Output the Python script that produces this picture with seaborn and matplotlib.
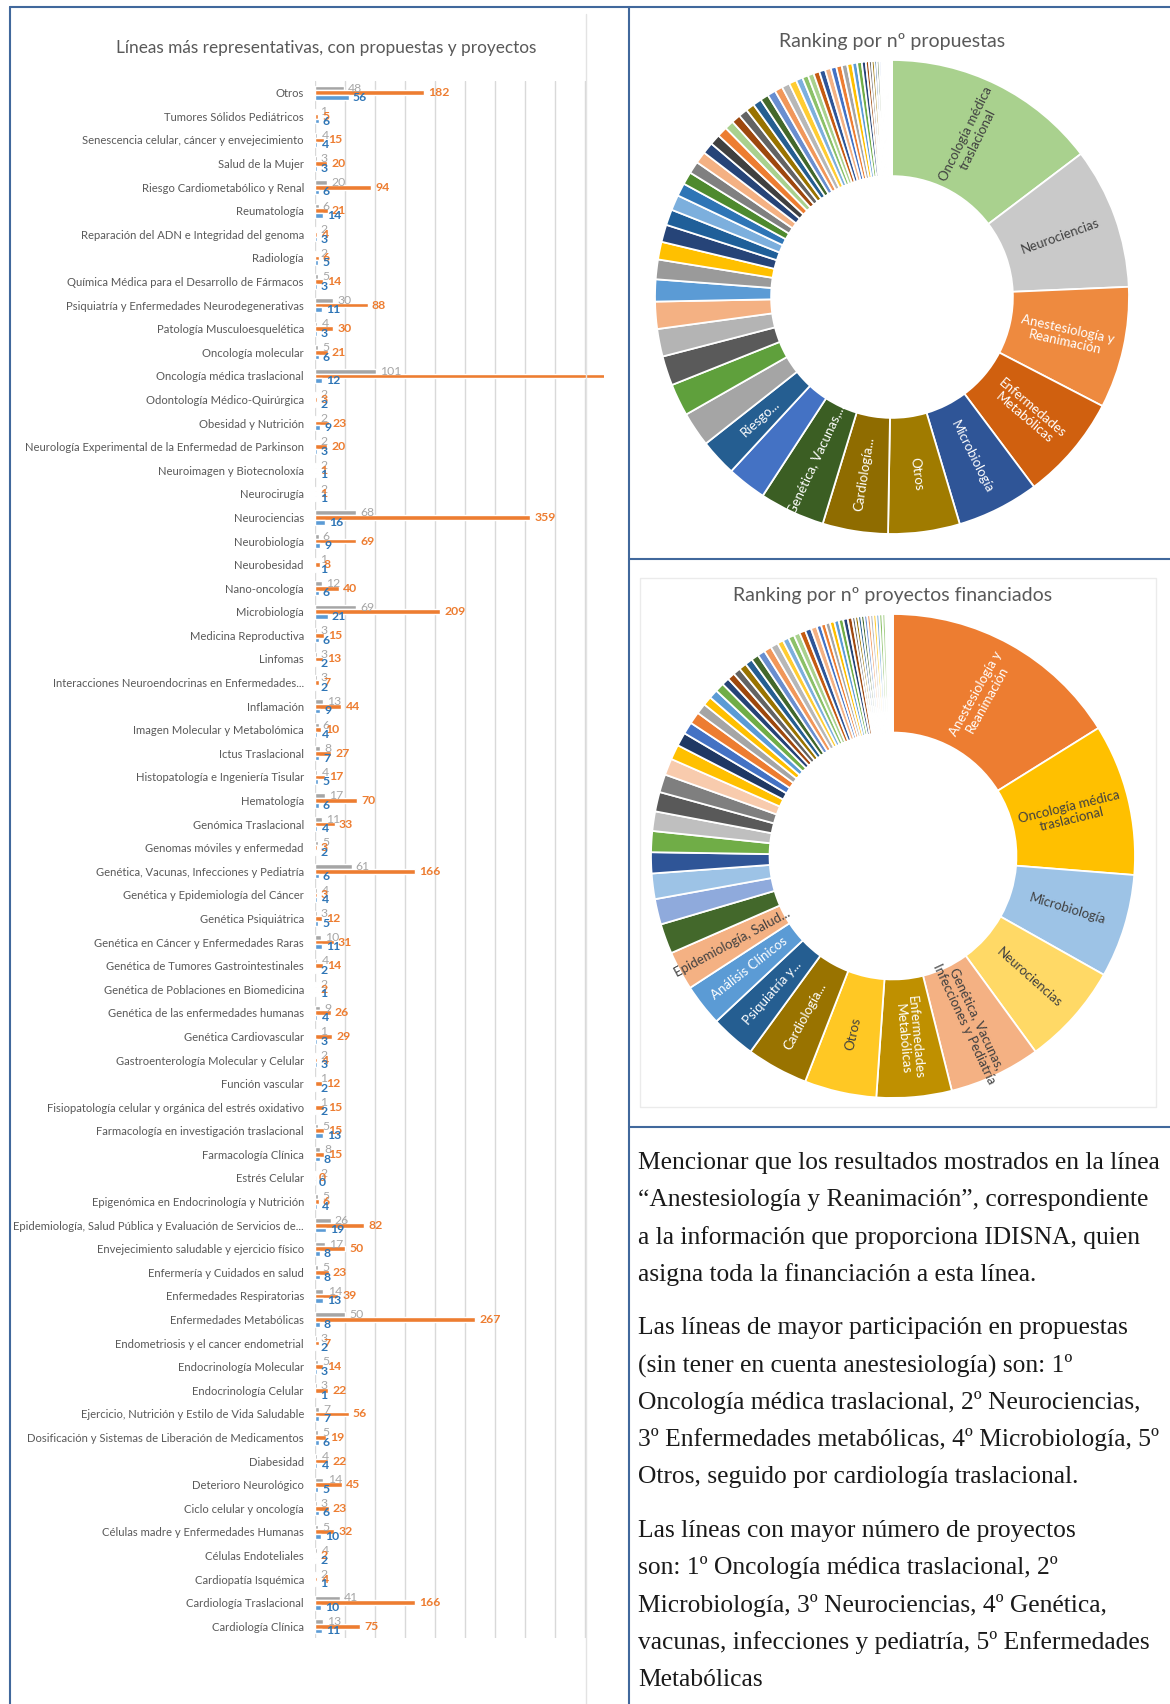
import numpy as np
import pandas as pd
import matplotlib
matplotlib.use("Agg")
import matplotlib.pyplot as plt
import seaborn as sns
from matplotlib.lines import Line2D
from matplotlib.patches import Rectangle

# lineas de investigacion (orden del grafico de barras, de arriba a abajo)
lineas = [
    "Otros",
    "Tumores Sólidos Pediátricos",
    "Senescencia celular, cáncer y envejecimiento",
    "Salud de la Mujer",
    "Riesgo Cardiometabólico y Renal",
    "Reumatología",
    "Reparación del ADN e Integridad del genoma",
    "Radiología",
    "Química Médica para el Desarrollo de Fármacos",
    "Psiquiatría y Enfermedades Neurodegenerativas",
    "Patología Musculoesquelética",
    "Oncología molecular",
    "Oncología médica traslacional",
    "Odontología Médico-Quirúrgica",
    "Obesidad y Nutrición",
    "Neurología Experimental de la Enfermedad de Parkinson",
    "Neuroimagen y Biotecnoloxía",
    "Neurocirugía",
    "Neurociencias",
    "Neurobiología",
    "Neurobesidad",
    "Nano-oncología",
    "Microbiología",
    "Medicina Reproductiva",
    "Linfomas",
    "Interacciones Neuroendocrinas en Enfermedades...",
    "Inflamación",
    "Imagen Molecular y Metabolómica",
    "Ictus Traslacional",
    "Histopatología e Ingeniería Tisular",
    "Hematología",
    "Genómica Traslacional",
    "Genomas móviles y enfermedad",
    "Genética, Vacunas, Infecciones y Pediatría",
    "Genética y Epidemiología del Cáncer",
    "Genética Psiquiátrica",
    "Genética en Cáncer y Enfermedades Raras",
    "Genética de Tumores Gastrointestinales",
    "Genética de Poblaciones en Biomedicina",
    "Genética de las enfermedades humanas",
    "Genética Cardiovascular",
    "Gastroenterología Molecular y Celular",
    "Función vascular",
    "Fisiopatología celular y orgánica del estrés oxidativo",
    "Farmacología en investigación traslacional",
    "Farmacología Clínica",
    "Estrés Celular",
    "Epigenómica en Endocrinología y Nutrición",
    "Epidemiología, Salud Pública y Evaluación de Servicios de...",
    "Envejecimiento saludable y ejercicio físico",
    "Enfermería y Cuidados en salud",
    "Enfermedades Respiratorias",
    "Enfermedades Metabólicas",
    "Endometriosis y el cancer endometrial",
    "Endocrinología Molecular",
    "Endocrinología Celular",
    "Ejercicio, Nutrición y Estilo de Vida Saludable",
    "Dosificación y Sistemas de Liberación de Medicamentos",
    "Diabesidad",
    "Deterioro Neurológico",
    "Ciclo celular y oncología",
    "Células madre y Enfermedades Humanas",
    "Células Endoteliales",
    "Cardiopatía Isquémica",
    "Cardiología Traslacional",
    "Cardiología Clínica",
]

# gris
proyectos = [48, 1, 4, 3, 20, 6, 2, 2, 5, 30, 4, 5, 101, 2, 2, 2, 2, 2, 68, 6,
             1, 12, 69, 3, 3, 3, 13, 6, 8, 4, 17, 11, 5, 61, 4, 3, 10, 4, 2, 9,
             1, 2, 1, 1, 5, 8, 2, 5, 26, 17, 5, 14, 50, 3, 5, 3, 7, 5, 4, 14,
             3, 5, 4, 2, 41, 13]
# naranja
propuestas = [182, 5, 15, 20, 94, 21, 4, 6, 14, 88, 30, 21, 547, 3, 23, 20, 1, 1, 359, 69,
              8, 40, 209, 15, 13, 7, 44, 10, 27, 17, 70, 33, 3, 166, 3, 12, 31, 14, 2, 26,
              29, 4, 12, 15, 15, 15, 0, 6, 82, 50, 23, 39, 267, 7, 14, 22, 56, 19, 22, 45,
              23, 32, 2, 4, 166, 75]
# azul
grupos = [56, 6, 4, 3, 6, 14, 3, 5, 3, 11, 3, 6, 12, 2, 9, 3, 1, 1, 16, 9,
          1, 6, 21, 6, 2, 2, 9, 4, 7, 5, 6, 4, 2, 6, 4, 5, 11, 2, 1, 4,
          3, 3, 2, 2, 13, 8, 0, 4, 19, 8, 8, 13, 8, 2, 3, 1, 7, 6, 4, 5,
          6, 10, 2, 1, 10, 11]

# lineas que solo salen en los anillos
extra_lineas = ["Anestesiología y Reanimación", "Análisis Clínicos"]
extra_propuestas = [309, 100]
extra_proyectos = [161, 28]

titulo_barras = "Líneas más representativas, con propuestas y proyectos"
titulo_prop = "Ranking por nº propuestas"
titulo_proy = "Ranking por nº proyectos financiados"

etiquetas_prop = {
    "Oncología médica traslacional": "Oncología médica\ntraslacional",
    "Neurociencias": "Neurociencias",
    "Anestesiología y Reanimación": "Anestesiología y\nReanimación",
    "Enfermedades Metabólicas": "Enfermedades\nMetabólicas",
    "Microbiología": "Microbiología",
    "Otros": "Otros",
    "Cardiología Traslacional": "Cardiología...",
    "Genética, Vacunas, Infecciones y Pediatría": "Genética, Vacunas,...",
    "Riesgo Cardiometabólico y Renal": "Riesgo...",
}
etiquetas_proy = {
    "Anestesiología y Reanimación": "Anestesiología y\nReanimación",
    "Oncología médica traslacional": "Oncología médica\ntraslacional",
    "Microbiología": "Microbiología",
    "Neurociencias": "Neurociencias",
    "Genética, Vacunas, Infecciones y Pediatría": "Genética, Vacunas,\nInfecciones y Pediatría",
    "Enfermedades Metabólicas": "Enfermedades\nMetabólicas",
    "Otros": "Otros",
    "Cardiología Traslacional": "Cardiología...",
    "Psiquiatría y Enfermedades Neurodegenerativas": "Psiquiatría y...",
    "Análisis Clínicos": "Análisis Clínicos",
    "Epidemiología, Salud Pública y Evaluación de Servicios de...": "Epidemiología, Salud...",
}

texto = [
    ["Mencionar que los resultados mostrados en la línea",
     "“Anestesiología y Reanimación”, correspondiente",
     "a la información que proporciona IDISNA, quien",
     "asigna toda la financiación a esta línea."],
    ["Las líneas de mayor participación en propuestas",
     "(sin tener en cuenta anestesiología) son: 1º",
     "Oncología médica traslacional, 2º Neurociencias,",
     "3º Enfermedades metabólicas, 4º Microbiología, 5º",
     "Otros, seguido por cardiología traslacional."],
    ["Las líneas con mayor número de proyectos",
     "son: 1º Oncología médica traslacional, 2º",
     "Microbiología, 3º Neurociencias, 4º Genética,",
     "vacunas, infecciones y pediatría, 5º Enfermedades",
     "Metabólicas"],
]

sns.set_theme(style="white")
plt.rcParams["font.family"] = ["Lato", "DejaVu Sans"]

W, H = 1170, 1704
fig = plt.figure(figsize=(W / 100, H / 100), dpi=100)
fig.patch.set_facecolor("white")


def fx(x):
    return x / W


def fy(y):
    return 1 - y / H


# ---------- grafico de barras ----------
series = ["proyectos", "propuestas", "grupos"]
df = pd.DataFrame({
    "linea": lineas * 3,
    "serie": np.repeat(series, len(lineas)),
    "valor": proyectos + propuestas + grupos,
})

ax = fig.add_axes([fx(315), fy(1638), fx(604) - fx(315), fy(81) - fy(1638)])
sns.barplot(data=df, x="valor", y="linea", hue="serie", hue_order=series,
            palette=["#A5A5A5", "#ED7D31", "#5B9BD5"], orient="h", width=0.6,
            errorbar=None, saturation=1, legend=False, ax=ax)
ax.set_xlim(0, 482)
ax.set_xticks(np.arange(0, 451, 50))
ax.set_xticklabels([])
ax.tick_params(length=0)
ax.tick_params(axis="y", labelsize=8.1, labelcolor="#595959", pad=8)
ax.grid(axis="x", color="#D9D9D9", lw=1)
ax.set_axisbelow(True)
for s in ax.spines.values():
    s.set_visible(False)
ax.set_xlabel("")
ax.set_ylabel("")

for cont, col, w in zip(ax.containers, ["#A6A6A6", "#ED7D31", "#2E75B6"],
                        ["normal", "bold", "bold"]):
    ax.bar_label(cont, padding=3, color=col, fontsize=8.8, fontweight=w)

fig.text(fx(326), fy(48), titulo_barras, ha="center", va="center",
         fontsize=12.4, color="#595959")

# ---------- anillos ----------
office = ["#4472C4", "#ED7D31", "#A5A5A5", "#FFC000", "#5B9BD5", "#70AD47",
          "#264478", "#9E480E", "#636363", "#997300", "#255E91", "#43682B",
          "#698ED0", "#F1975A", "#B7B7B7", "#FFCD33", "#7CAFDD", "#8CC168",
          "#A9D18E", "#C55A11", "#2F5597", "#F4B183"]

colores_prop = ["#A9D18E", "#C9C9C9", "#EE8A3F", "#D0600F", "#2F5597", "#A07B00",
                "#8F6C00", "#3B5E23", "#4472C4", "#255E91", "#A5A5A5", "#5FA03C",
                "#5A5A5A", "#B4B4B4", "#F4B183", "#5B9BD5", "#9A9A9A", "#FFC000",
                "#264478", "#1F5F99", "#7CAFDD", "#2E75B6", "#4E8A2E", "#808080",
                "#F4B183", "#264478", "#404040", "#ED7D31", "#A9D18E"]
colores_proy = ["#ED7D31", "#FFC000", "#9DC3E6", "#FFD966", "#F4B183", "#BF9000",
                "#FFC824", "#997300", "#255E91", "#5B9BD5", "#F4B183", "#43682B",
                "#8FAADC", "#9DC3E6", "#2F5597", "#70AD47", "#BFBFBF", "#595959",
                "#7F7F7F", "#F8CBAD", "#FFC000", "#1F3864"]

oscuro_prop = {"Oncología médica traslacional", "Neurociencias"}
oscuro_proy = {"Oncología médica traslacional", "Microbiología", "Neurociencias",
               "Genética, Vacunas, Infecciones y Pediatría", "Otros",
               "Epidemiología, Salud Pública y Evaluación de Servicios de..."}


def anillo(cx, cy, r, nombres, valores, colores, etiquetas, oscuros, titulo, ty):
    orden = sorted(zip(nombres, valores), key=lambda t: (-t[1], t[0]))
    n = [o[0] for o in orden]
    v = [o[1] for o in orden]
    cols = [colores[i] if i < len(colores) else office[i % len(office)]
            for i in range(len(v))]
    a = fig.add_axes([fx(cx - r), fy(cy + r), 2 * r / W, 2 * r / H])
    wedges, _ = a.pie(v, colors=cols, startangle=90, counterclock=False, radius=1,
                      wedgeprops=dict(width=0.49, edgecolor="white", linewidth=1.3))
    a.set_xlim(-1, 1)
    a.set_ylim(-1, 1)
    a.axis("off")
    for wdg, nom in zip(wedges, n):
        if nom not in etiquetas:
            continue
        mid = (wdg.theta1 + wdg.theta2) / 2
        rr = 0.755
        rot = mid % 360
        if 90 < rot <= 270:
            rot -= 180
        elif rot > 270:
            rot -= 360
        a.text(rr * np.cos(np.radians(mid)), rr * np.sin(np.radians(mid)),
               etiquetas[nom], rotation=rot, rotation_mode="anchor",
               ha="center", va="center", fontsize=9.5, linespacing=1.1,
               color="#404040" if nom in oscuros else "white")
    fig.text(fx(cx), fy(ty), titulo, ha="center", va="center",
             fontsize=14, color="#595959")


anillo(892, 297, 237, lineas + extra_lineas, propuestas + extra_propuestas,
       colores_prop, etiquetas_prop, oscuro_prop, titulo_prop, 41)
anillo(893, 856, 242, lineas + extra_lineas, proyectos + extra_proyectos,
       colores_proy, etiquetas_proy, oscuro_proy, titulo_proy, 596)

# ---------- texto ----------
inicio = [1162, 1327, 1530]
for y0, parrafo in zip(inicio, texto):
    for i, linea in enumerate(parrafo):
        fig.text(fx(638), fy(y0 + i * 37.3 + 7), linea, ha="left", va="baseline",
                 fontsize=18.4, color="#1a1a1a", family=["Liberation Serif", "DejaVu Serif"])

# ---------- marcos ----------
azul = "#41689C"
for (x0, y0, x1, y1) in [(10, 7, 1170, 7), (10, 7, 10, 1704), (629, 7, 629, 1704),
                         (629, 559, 1170, 559), (629, 1127, 1170, 1127)]:
    fig.add_artist(Line2D([fx(x0), fx(x1)], [fy(y0), fy(y1)], color=azul, lw=1.5,
                          transform=fig.transFigure))
fig.add_artist(Line2D([fx(586), fx(586)], [fy(14), fy(1704)], color="#E3E3E3", lw=1,
                      transform=fig.transFigure))
fig.add_artist(Rectangle((fx(640), fy(1107)), fx(1156) - fx(640), fy(578) - fy(1107),
                         fill=False, edgecolor="#EBEBEB", lw=1, transform=fig.transFigure))

fig.savefig("out.png", dpi=100, facecolor="white")
